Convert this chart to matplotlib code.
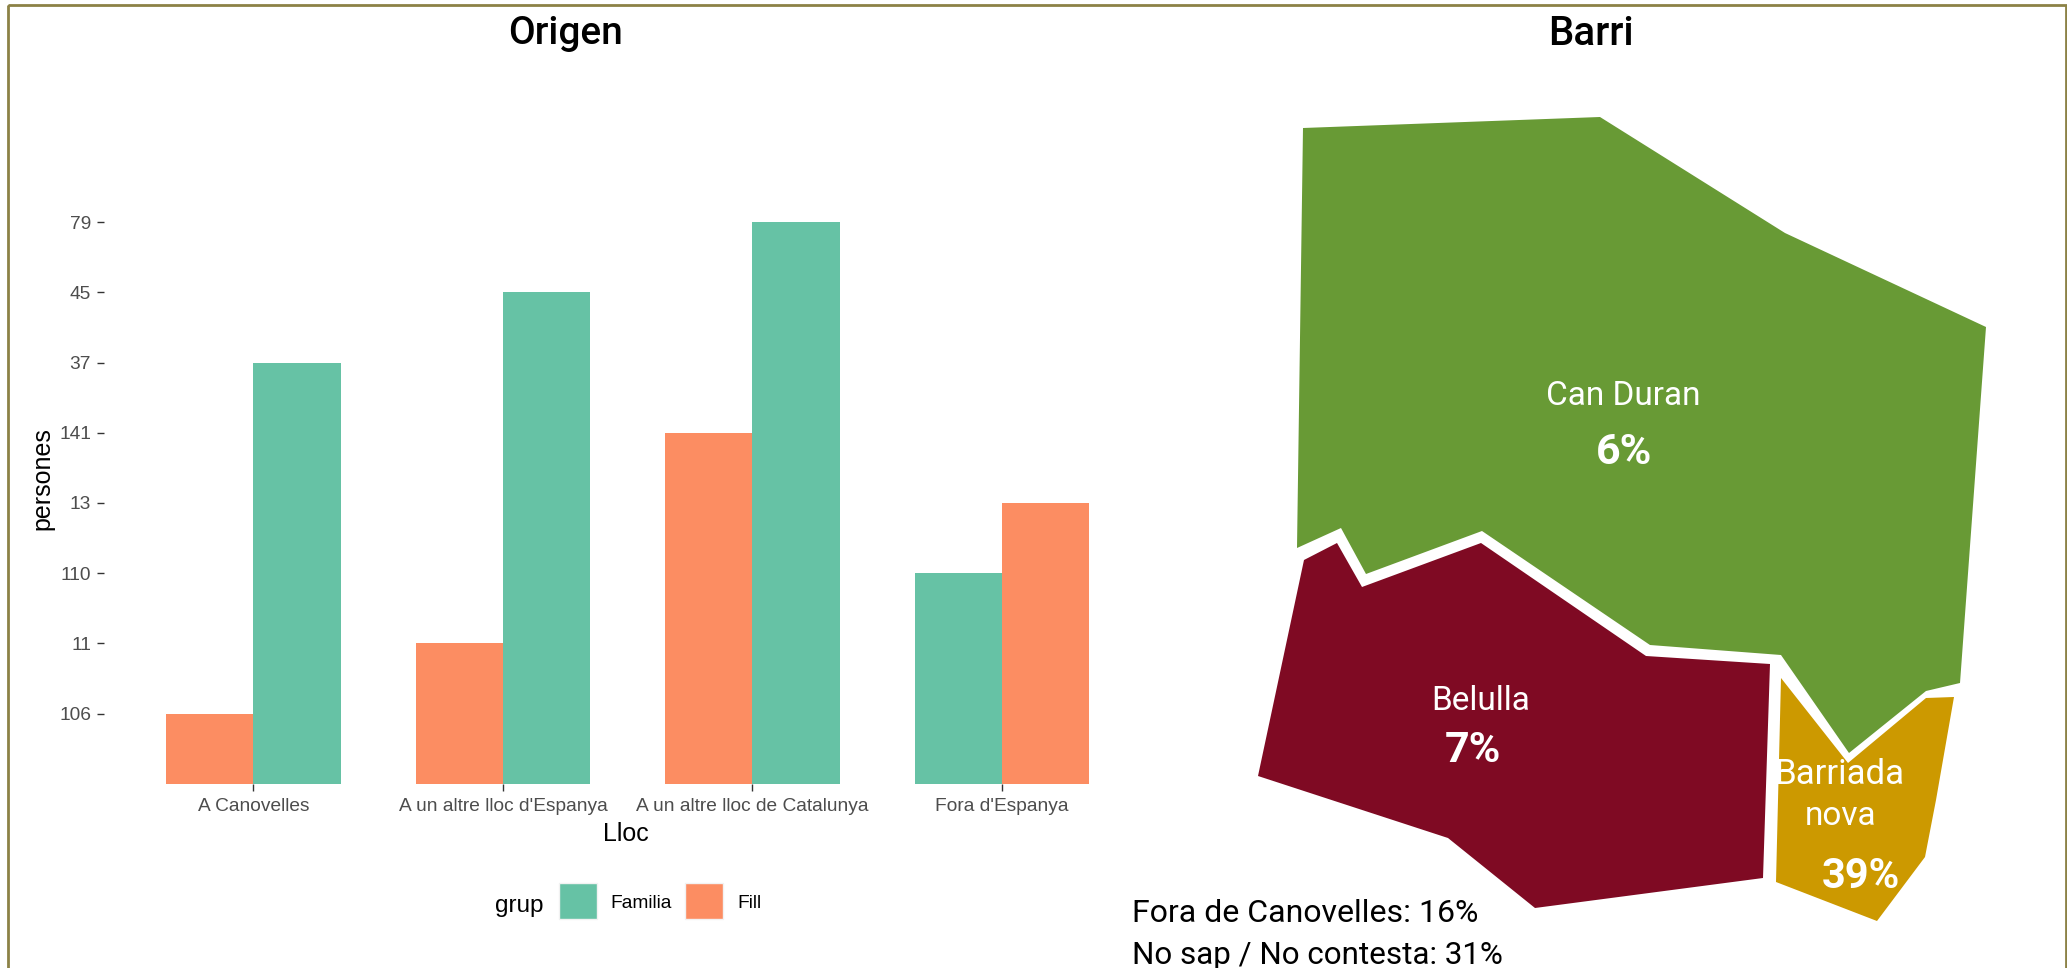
import numpy as np
import matplotlib
matplotlib.use("Agg")
import matplotlib.pyplot as plt
from matplotlib.patches import Polygon, Rectangle

# Data
llocs = ["A Canovelles", "A un altre lloc d'Espanya", "A un altre lloc de Catalunya", "Fora d'Espanya"]
familia = ["37", "45", "79", "110"]
fill = ["106", "11", "141", "13"]
# the y axis of the original is discrete, text order
y_levels = ["106", "11", "110", "13", "141", "37", "45", "79"]

# map outlines, in pixels of the picture
can_duran = [(1303, 128), (1600, 117), (1785, 233), (1986, 327), (1960, 683), (1926, 691),
             (1849, 753), (1781, 655), (1650, 645), (1482, 531), (1366, 574), (1341, 528), (1297, 548)]
belulla = [(1304, 560), (1337, 543), (1362, 587), (1481, 543), (1646, 656), (1770, 664),
           (1763, 878), (1535, 908), (1448, 838), (1258, 776)]
barriada = [(1781, 678), (1848, 763), (1926, 698), (1954, 697), (1936, 800), (1925, 857),
            (1877, 921), (1776, 882)]

W, H = 2067, 968
GREEN = "#66C2A5"
ORANGE = "#FC8D62"
AXIS_FONT = "Liberation Sans"
MAP_FONT = "Roboto"

fig = plt.figure(figsize=(W / 100, H / 100), dpi=100)

# overlay in picture pixels, for frame, map and legend
px = fig.add_axes([0, 0, 1, 1])
px.set_xlim(0, W)
px.set_ylim(H, 0)
px.axis("off")

px.add_patch(Rectangle((8, 5), 2058, 1000, fill=False, edgecolor="#8C8246", linewidth=2))

px.add_patch(Polygon(can_duran, closed=True, facecolor="#689A35", edgecolor="none"))
px.add_patch(Polygon(belulla, closed=True, facecolor="#7F0A23", edgecolor="none"))
px.add_patch(Polygon(barriada, closed=True, facecolor="#CC9900", edgecolor="none"))

# bars
left, right = 103.7, 1151.6
bottom, top = 783.7, 180.0
ax = fig.add_axes([left / W, 1 - bottom / H, (right - left) / W, (bottom - top) / H])
ax.patch.set_alpha(0)

x = np.arange(len(llocs)) + 1
w = 0.35
y_fam = [y_levels.index(v) + 1 for v in familia]
y_fill = [y_levels.index(v) + 1 for v in fill]
# the last group has the green bar first in the picture
for i in range(len(llocs)):
    if y_fam[i] < y_fill[i]:
        ax.bar(x[i] - w / 2, y_fam[i], w, color=GREEN)
        ax.bar(x[i] + w / 2, y_fill[i], w, color=ORANGE)
    else:
        ax.bar(x[i] - w / 2, y_fill[i], w, color=ORANGE)
        ax.bar(x[i] + w / 2, y_fam[i], w, color=GREEN)

ax.set_xlim(0.4, 4.6)
ax.set_ylim(0, (bottom - top) / 70.2)
ax.set_xticks(x)
ax.set_xticklabels(llocs, fontsize=13.8, color="#4D4D4D", family=AXIS_FONT)
ax.set_yticks(np.arange(len(y_levels)) + 1)
ax.set_yticklabels(y_levels, fontsize=13.8, color="#4D4D4D", family=AXIS_FONT)
ax.tick_params(axis="x", length=5, width=1, color="#333333", pad=5.5)
ax.tick_params(axis="y", length=5, width=1, color="#333333", pad=4)
for s in ax.spines.values():
    s.set_visible(False)

px.text(626, 834, "Lloc", fontsize=18, family=AXIS_FONT, ha="center", va="center")
px.text(42, 479, "persones", fontsize=18, family=AXIS_FONT, rotation=90, ha="center", va="center")

# legend
px.text(519, 906, "grup", fontsize=17.5, family=AXIS_FONT, ha="center", va="center")
px.add_patch(Rectangle((559, 883), 38, 36, facecolor=GREEN, edgecolor="#F2F2F2", linewidth=1))
px.add_patch(Rectangle((685, 883), 38, 36, facecolor=ORANGE, edgecolor="#F2F2F2", linewidth=1))
px.text(610, 903, "Familia", fontsize=13.8, family=AXIS_FONT, va="center")
px.text(737, 903, "Fill", fontsize=13.8, family=AXIS_FONT, va="center")

# titles
px.text(565, 34, "Origen", fontsize=28, family=MAP_FONT, fontweight="medium", ha="center", va="center")
px.text(1591, 34, "Barri", fontsize=29, family=MAP_FONT, fontweight="medium", ha="center", va="center")

# map labels
px.text(1623, 396, "Can Duran", fontsize=24, family=MAP_FONT, color="white", ha="center", va="center")
px.text(1624, 453, "6%", fontsize=31, family=MAP_FONT, fontweight="bold", color="white", ha="center", va="center")
px.text(1481, 701, "Belulla", fontsize=24, family=MAP_FONT, color="white", ha="center", va="center")
px.text(1473, 751, "7%", fontsize=31, family=MAP_FONT, fontweight="bold", color="white", ha="center", va="center")
px.text(1839, 775, "Barriada", fontsize=25, family=MAP_FONT, color="white", ha="center", va="center")
px.text(1841, 816, "nova", fontsize=24, family=MAP_FONT, color="white", ha="center", va="center")
px.text(1861, 876, "39%", fontsize=30, family=MAP_FONT, fontweight="bold", color="white", ha="center", va="center")

px.text(1132, 914, "Fora de Canovelles: 16%", fontsize=23, family=MAP_FONT, va="center")
px.text(1132, 955, "No sap / No contesta: 31%", fontsize=22.6, family=MAP_FONT, va="center")

fig.savefig("out.png", dpi=100)
